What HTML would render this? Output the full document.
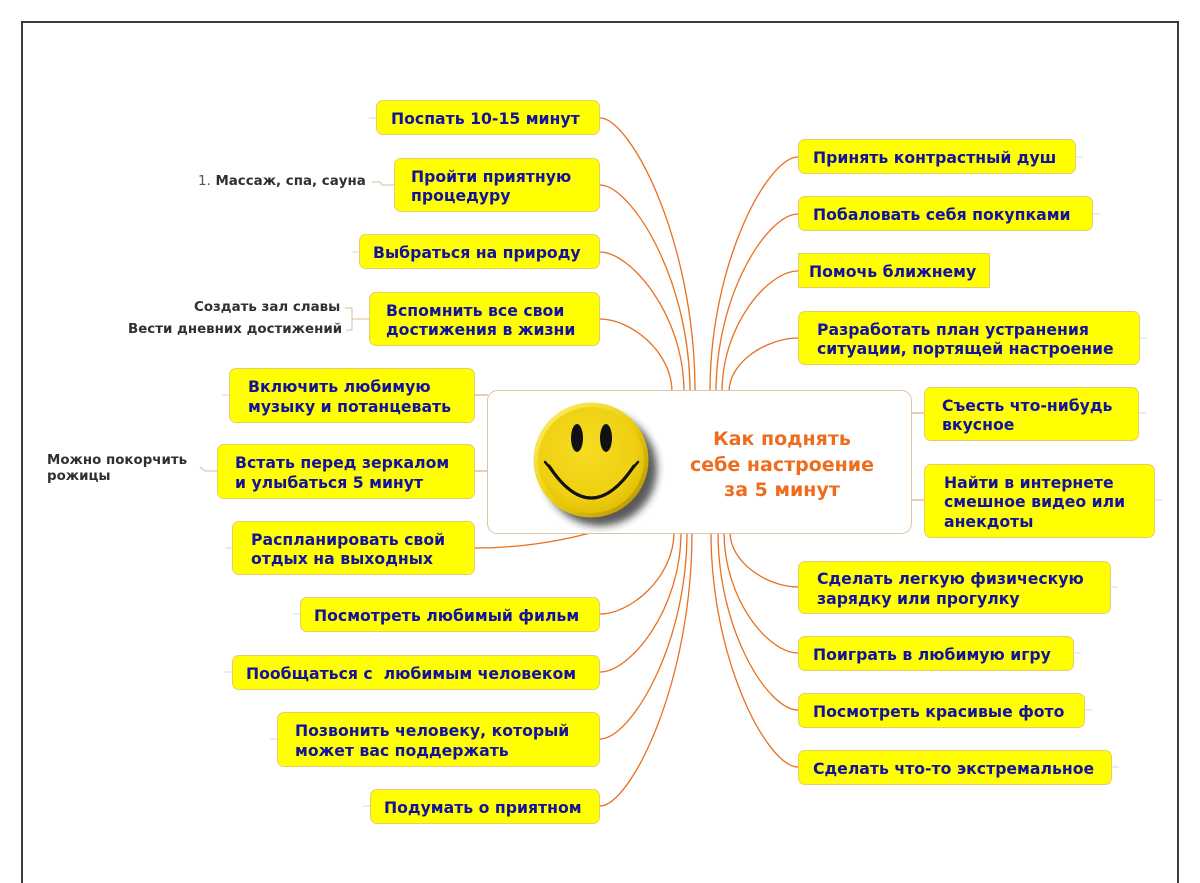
<!DOCTYPE html>
<html>
<head>
<meta charset="utf-8">
<style>
  html, body { margin:0; padding:0; background:#fff; }
  #root { position:relative; width:1200px; height:883px; overflow:hidden; background:#fff; }
  .frame { position:absolute; left:21px; top:21px; width:1154px; height:900px; border-left:2px solid #3a3a3a; border-top:2px solid #3a3a3a; border-right:2px solid #3a3a3a; }
  svg.layer { position:absolute; left:0; top:0; }
  .b { position:absolute; box-sizing:border-box; background:#ffff00; border:1px solid #e6cc6a; border-radius:7px;
       display:flex; align-items:center; white-space:nowrap; padding-top:2px;
       font-family:"DejaVu Sans", "Liberation Sans", sans-serif; font-weight:bold; font-size:15.7px; line-height:19.5px; color:#12129c; }
  .sq { border-radius:0; }
  .note { position:absolute; white-space:nowrap; font-family:"DejaVu Sans", "Liberation Sans", sans-serif; font-weight:bold; font-size:13.4px; line-height:16px; color:#303030; }
  .title { position:absolute; left:682px; top:427px; width:200px; text-align:center; font-family:"DejaVu Sans", "Liberation Sans", sans-serif; font-weight:bold; font-size:19px; line-height:25.5px; color:#ef6c1e; white-space:nowrap; }
</style>
</head>
<body>
<div id="root">
  <div class="frame"></div>

  <svg class="layer" width="1200" height="883" viewBox="0 0 1200 883">
    <defs>
      <linearGradient id="rim" x1="0" y1="0" x2="1" y2="1">
        <stop offset="0" stop-color="#fff27a"/>
        <stop offset="0.5" stop-color="#eed010"/>
        <stop offset="1" stop-color="#b08a00"/>
      </linearGradient>
      <radialGradient id="face" cx="45%" cy="40%" r="65%">
        <stop offset="0" stop-color="#f6dc22"/>
        <stop offset="0.7" stop-color="#efd012"/>
        <stop offset="1" stop-color="#e0bc00"/>
      </radialGradient>
      <filter id="blur" x="-30%" y="-30%" width="160%" height="160%"><feGaussianBlur stdDeviation="4"/></filter>
    </defs>

    <g fill="none" stroke="#e8701e" stroke-width="1.3">
      <path d="M600,118 C630,118 695,240 695,392"/>
      <path d="M600,185 C630,185 690,277 690,392"/>
      <path d="M600,252 C630,252 684,314 684,392"/>
      <path d="M600,319 C630,319 672,351 672,392"/>
      <path d="M798,157 C768,157 710,262 710,392"/>
      <path d="M798,214 C768,214 716,293 716,392"/>
      <path d="M798,271 C768,271 722,325 722,392"/>
      <path d="M798,338 C768,338 729,361 729,392"/>
      <path d="M600,614 C630,614 674,578 674,532"/>
      <path d="M600,672 C630,672 681,610 681,532"/>
      <path d="M600,739 C630,739 687,647 687,532"/>
      <path d="M600,806 C630,806 692,684 692,532"/>
      <path d="M798,587 C768,587 730,563 730,532"/>
      <path d="M798,653 C768,653 724,599 724,532"/>
      <path d="M798,710 C768,710 718,631 718,532"/>
      <path d="M798,767 C768,767 711,662 711,532"/>
      <path d="M475,548 C520,548 560,541 590,533"/>
    </g>
    <g fill="none" stroke="#dc9a6a" stroke-width="1">
      <path d="M475,395 L488,395"/>
      <path d="M475,471 L488,471"/>
      <path d="M911,413 L924,413"/>
      <path d="M911,500 L924,500"/>
    </g>
    <g fill="none" stroke="#d8bc98" stroke-width="1">
      <path d="M372,182 L380,182 L382,185 L394,185"/>
      <path d="M345,308 L352,308 L352,330 L346,330"/>
      <path d="M352,319 L369,319"/>
      <path d="M200,467 L205,471 L217,471"/>
    </g>
    <g fill="none" stroke="#d8d8d0" stroke-width="1">
      <path d="M369,118 L376,118"/>
      <path d="M352,252 L359,252"/>
      <path d="M222,395 L229,395"/>
      <path d="M225,548 L232,548"/>
      <path d="M293,614 L300,614"/>
      <path d="M225,672 L232,672"/>
      <path d="M270,739 L277,739"/>
      <path d="M363,806 L370,806"/>
      <path d="M1076,157 L1083,157"/>
      <path d="M1093,214 L1100,214"/>
      <path d="M1140,338 L1147,338"/>
      <path d="M1139,413 L1146,413"/>
      <path d="M1155,500 L1162,500"/>
      <path d="M1111,587 L1118,587"/>
      <path d="M1074,653 L1081,653"/>
      <path d="M1085,710 L1092,710"/>
      <path d="M1112,767 L1119,767"/>
    </g>

    <rect x="487.5" y="390.5" width="424" height="143" rx="10" ry="10" fill="#ffffff" stroke="#dcc4a6" stroke-width="1"/>

    <circle cx="600" cy="469" r="57" fill="#222" opacity="0.75" filter="url(#blur)"/>
    <circle cx="591" cy="460" r="57.5" fill="url(#rim)"/>
    <circle cx="591" cy="460" r="53" fill="url(#face)"/>
    <ellipse cx="577" cy="438" rx="6" ry="14" fill="#111"/>
    <ellipse cx="606" cy="438" rx="6" ry="14" fill="#111"/>
    <path d="M549,466 Q591,530 634,466" fill="none" stroke="#111" stroke-width="3.2" stroke-linecap="round"/>
    <path d="M545,462 L552,470" fill="none" stroke="#111" stroke-width="2.5" stroke-linecap="round"/>
    <path d="M638,462 L631,470" fill="none" stroke="#111" stroke-width="2.5" stroke-linecap="round"/>
  </svg>

  <div class="title">Как поднять<br>себе настроение<br>за 5 минут</div>

  <div class="b" style="left:376px;top:100px;width:224px;height:35px;padding-left:14px">Поспать 10-15 минут</div>
  <div class="b" style="left:394px;top:158px;width:206px;height:54px;padding-left:16px">Пройти приятную<br>процедуру</div>
  <div class="b" style="left:359px;top:234px;width:241px;height:35px;padding-left:13px">Выбраться на природу</div>
  <div class="b" style="left:369px;top:292px;width:231px;height:54px;padding-left:16px">Вспомнить все свои<br>достижения в жизни</div>
  <div class="b" style="left:229px;top:368px;width:246px;height:55px;padding-left:18px">Включить любимую<br>музыку и потанцевать</div>
  <div class="b" style="left:217px;top:444px;width:258px;height:55px;padding-left:17px">Встать перед зеркалом<br>и улыбаться 5 минут</div>
  <div class="b" style="left:232px;top:521px;width:243px;height:54px;padding-left:18px">Распланировать свой<br>отдых на выходных</div>
  <div class="b" style="left:300px;top:597px;width:300px;height:35px;padding-left:13px">Посмотреть любимый фильм</div>
  <div class="b" style="left:232px;top:655px;width:368px;height:35px;padding-left:13px">Пообщаться с&nbsp; любимым человеком</div>
  <div class="b" style="left:277px;top:712px;width:323px;height:55px;padding-left:17px">Позвонить человеку, который<br>может вас поддержать</div>
  <div class="b" style="left:370px;top:789px;width:230px;height:35px;padding-left:13px">Подумать о приятном</div>

  <div class="b" style="left:798px;top:139px;width:278px;height:35px;padding-left:14px">Принять контрастный душ</div>
  <div class="b" style="left:798px;top:196px;width:295px;height:35px;padding-left:14px">Побаловать себя покупками</div>
  <div class="b sq" style="left:798px;top:253px;width:192px;height:35px;padding-left:10px">Помочь ближнему</div>
  <div class="b" style="left:798px;top:311px;width:342px;height:54px;padding-left:18px">Разработать план устранения<br>ситуации, портящей настроение</div>
  <div class="b" style="left:924px;top:387px;width:215px;height:54px;padding-left:17px">Съесть что-нибудь<br>вкусное</div>
  <div class="b" style="left:924px;top:464px;width:231px;height:74px;padding-left:19px">Найти в интернете<br>смешное видео или<br>анекдоты</div>
  <div class="b" style="left:798px;top:561px;width:313px;height:53px;padding-left:18px">Сделать легкую физическую<br>зарядку или прогулку</div>
  <div class="b" style="left:798px;top:636px;width:276px;height:35px;padding-left:14px">Поиграть в любимую игру</div>
  <div class="b" style="left:798px;top:693px;width:287px;height:35px;padding-left:14px">Посмотреть красивые фото</div>
  <div class="b" style="left:798px;top:750px;width:314px;height:35px;padding-left:14px">Сделать что-то экстремальное</div>

  <div class="note" style="left:198px;top:174px"><span style="font-weight:normal;color:#555">1.</span> Массаж, спа, сауна</div>
  <div class="note" style="left:194px;top:300px">Создать зал славы</div>
  <div class="note" style="left:128px;top:322px">Вести дневних достижений</div>
  <div class="note" style="left:47px;top:453px">Можно покорчить<br>рожицы</div>
</div>
</body>
</html>
